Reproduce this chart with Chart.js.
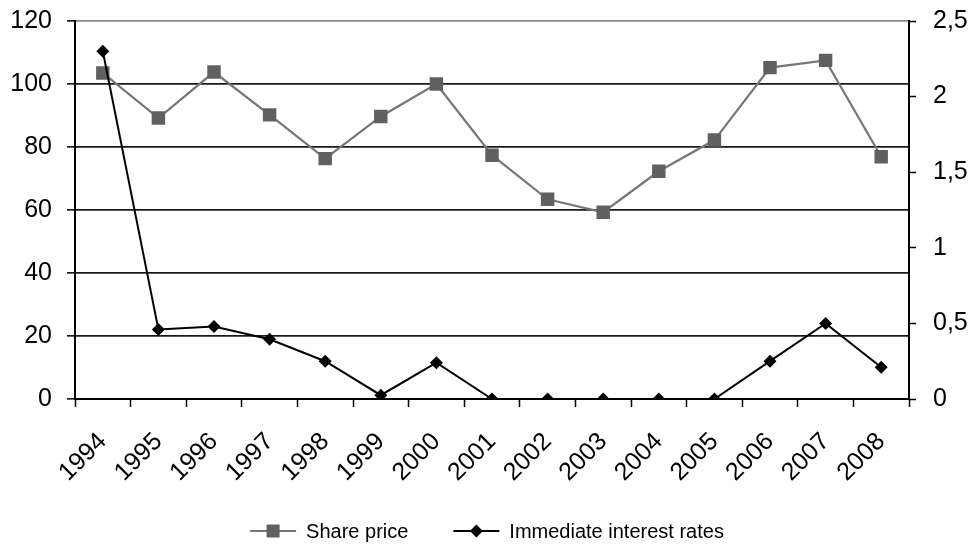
<!DOCTYPE html>
<html>
<head>
<meta charset="utf-8">
<title>Share price and immediate interest rates, 1994–2008</title>
<script src="https://cdn.jsdelivr.net/npm/chart.js@4/dist/chart.umd.min.js"></script>
<style>
  html, body { margin: 0; padding: 0; background: #ffffff; }
  #wrap { width: 973px; height: 545px; }
</style>
</head>
<body>
<div id="wrap"><canvas id="chart" width="973" height="545"></canvas></div>
<script>
// Years on the category axis
const years = ['1994', '1995', '1996', '1997', '1998', '1999', '2000', '2001',
               '2002', '2003', '2004', '2005', '2006', '2007', '2008'];

// Share price index (left axis)
const sharePrice = [103.5, 89.2, 103.8, 90.2, 76.3, 89.7, 100, 77.4,
                    63.4, 59.3, 72.3, 82.2, 105.2, 107.5, 76.9];

// Immediate interest rates, % (right axis)
const interestRates = [2.3, 0.46, 0.48, 0.395, 0.25, 0.025, 0.24, 0,
                       0, 0, 0, 0, 0.25, 0.5, 0.21];

// Axis ranges and tick steps
const leftTicks = { min: 0, max: 120, step: 20 };
const rightTicks = { min: 0, max: 2.5, step: 0.5 };

const FONT = '"Liberation Sans", Arial, sans-serif';
const GREY_LINE = '#777777';
const GREY_MARK = '#606060';

// Legend under the plot: a line sample with its marker, then the label
const bottomLegend = {
  id: 'bottomLegend',
  afterDraw(chart) {
    const ctx = chart.ctx;
    const area = chart.chartArea;
    const items = [chart.data.datasets[0], chart.data.datasets[1]];
    const sample = 46, gapText = 10, gapItem = 45, y = 531;
    ctx.save();
    ctx.font = '20px ' + FONT;
    ctx.textBaseline = 'middle';
    const widths = items.map(d => ctx.measureText(d.label).width);
    let total = 0;
    items.forEach((d, i) => { total += sample + gapText + widths[i]; });
    total += gapItem * (items.length - 1);
    let x = (area.left + area.right) / 2 - 5 - total / 2;
    items.forEach((d, i) => {
      ctx.strokeStyle = d.borderColor;
      ctx.lineWidth = 2;
      ctx.beginPath();
      ctx.moveTo(x, y);
      ctx.lineTo(x + sample, y);
      ctx.stroke();
      const cx = x + sample / 2;
      ctx.fillStyle = d.pointBackgroundColor;
      ctx.beginPath();
      if (d.pointStyle === 'rect') {
        ctx.rect(cx - 6.5, y - 6.5, 13, 13);
      } else {
        ctx.moveTo(cx, y - 6.5);
        ctx.lineTo(cx + 6.5, y);
        ctx.lineTo(cx, y + 6.5);
        ctx.lineTo(cx - 6.5, y);
        ctx.closePath();
      }
      ctx.fill();
      ctx.fillStyle = '#000000';
      ctx.textAlign = 'left';
      ctx.fillText(d.label, x + sample + gapText, y + 1);
      x += sample + gapText + widths[i] + gapItem;
    });
    ctx.restore();
  }
};

// Vertical axes keep a fixed width and add no extra space above or below the plot
function fixVertical(width) {
  return scale => {
    scale.width = width;
    scale.paddingTop = 0;
    scale.paddingBottom = 0;
  };
}

new Chart(document.getElementById('chart'), {
  type: 'line',
  data: {
    labels: years,
    datasets: [
      {
        label: 'Share price',
        data: sharePrice,
        yAxisID: 'y',
        order: 1,
        borderColor: GREY_LINE,
        borderWidth: 2.2,
        pointStyle: 'rect',
        pointRadius: 9.5,
        pointBorderWidth: 0,
        pointBackgroundColor: GREY_MARK,
        pointBorderColor: GREY_MARK,
        tension: 0,
        fill: false
      },
      {
        label: 'Immediate interest rates',
        data: interestRates,
        yAxisID: 'y1',
        order: 0,
        borderColor: '#000000',
        borderWidth: 2,
        pointStyle: 'rectRot',
        pointRadius: 6.5,
        pointBorderWidth: 0,
        pointBackgroundColor: '#000000',
        pointBorderColor: '#000000',
        tension: 0,
        fill: false
      }
    ]
  },
  options: {
    responsive: false,
    animation: false,
    layout: { padding: { top: 21, left: 0, right: 0, bottom: 0 } },
    plugins: {
      legend: { display: false },
      tooltip: { enabled: false }
    },
    scales: {
      x: {
        type: 'category',
        offset: true,
        grid: {
          offset: true,
          drawOnChartArea: false,
          drawTicks: true,
          tickLength: 8,
          tickColor: '#000000',
          tickWidth: 1.5
        },
        border: { display: true, color: '#000000', width: 2 },
        ticks: {
          minRotation: 45,
          maxRotation: 45,
          padding: 20,
          color: '#000000',
          font: { family: FONT, size: 25 }
        },
        afterFit(scale) { scale.height = 146; }
      },
      y: {
        position: 'left',
        min: leftTicks.min,
        max: leftTicks.max,
        ticks: {
          stepSize: leftTicks.step,
          padding: 15,
          color: '#000000',
          font: { family: FONT, size: 25 }
        },
        grid: {
          drawOnChartArea: true,
          drawTicks: true,
          tickLength: 8,
          color: ctx => (ctx.tick && ctx.tick.value === leftTicks.max) ? '#8a8a8a' : '#1a1a1a',
          lineWidth: 1.7,
          tickColor: '#000000',
          tickWidth: 1.5
        },
        border: { display: true, color: '#000000', width: 2 },
        afterFit: fixVertical(75)
      },
      y1: {
        position: 'right',
        min: rightTicks.min,
        max: rightTicks.max,
        ticks: {
          stepSize: rightTicks.step,
          padding: 17,
          color: '#000000',
          font: { family: FONT, size: 25 },
          callback: v => String(v).replace('.', ',')
        },
        grid: {
          drawOnChartArea: false,
          drawTicks: true,
          tickLength: 7,
          tickColor: '#000000',
          tickWidth: 1.5
        },
        border: { display: true, color: '#000000', width: 2 },
        afterFit: fixVertical(64)
      }
    }
  },
  plugins: [bottomLegend]
});
</script>
</body>
</html>
